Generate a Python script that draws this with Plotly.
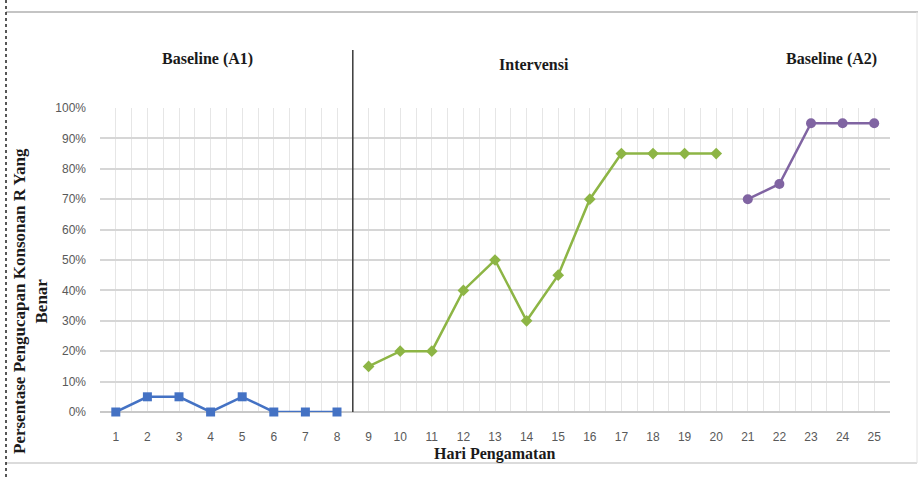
import plotly.graph_objects as go

days_a1 = [1, 2, 3, 4, 5, 6, 7, 8]
values_a1 = [0, 5, 5, 0, 5, 0, 0, 0]
days_b = [9, 10, 11, 12, 13, 14, 15, 16, 17, 18, 19, 20]
values_b = [15, 20, 20, 40, 50, 30, 45, 70, 85, 85, 85, 85]
days_a2 = [21, 22, 23, 24, 25]
values_a2 = [70, 75, 95, 95, 95]
x_ticks = list(range(1, 26))
y_ticks = [0, 10, 20, 30, 40, 50, 60, 70, 80, 90, 100]
y_tick_labels = [f"{v}%" for v in y_ticks]
phase_labels = ["Baseline (A1)", "Intervensi", "Baseline (A2)"]

W, H = 918, 480
L, R, T, B = 100, 890, 108, 412


def px(x):
    return (x - L) / (R - L)


def py(y):
    return (B - y) / (B - T)


fig = go.Figure()
fig.add_trace(go.Scatter(x=days_a1, y=values_a1, mode="lines+markers",
                         line=dict(color="#4472C4", width=2.5),
                         marker=dict(symbol="square", size=9, color="#4472C4"),
                         cliponaxis=False, showlegend=False))
fig.add_trace(go.Scatter(x=days_b, y=values_b, mode="lines+markers",
                         line=dict(color="#8DB545", width=2.5),
                         marker=dict(symbol="diamond", size=9, color="#8DB545"),
                         cliponaxis=False, showlegend=False))
fig.add_trace(go.Scatter(x=days_a2, y=values_a2, mode="lines+markers",
                         line=dict(color="#8064A2", width=2.5),
                         marker=dict(symbol="circle", size=10, color="#8064A2"),
                         cliponaxis=False, showlegend=False))

title_font = dict(family="Liberation Serif", size=16, color="#1a1a1a")

shapes = [
    dict(type="line", xref="x", yref="paper", x0=8.5, x1=8.5, y0=0, y1=py(50),
         line=dict(color="#3a3a3a", width=1.5)),
    dict(type="line", xref="paper", yref="paper", x0=px(6), x1=px(918), y0=py(12), y1=py(12),
         line=dict(color="#b0b0b0", width=1.5)),
    dict(type="line", xref="paper", yref="paper", x0=px(6), x1=px(917), y0=py(463), y1=py(463),
         line=dict(color="#cfcfcf", width=1.5)),
    dict(type="line", xref="paper", yref="paper", x0=px(917), x1=px(917), y0=py(12), y1=py(463),
         line=dict(color="#e2e2e2", width=1)),
    dict(type="line", xref="paper", yref="paper", x0=px(6), x1=px(6), y0=py(0), y1=py(480),
         line=dict(color="#202020", width=1.5, dash="dot")),
]

annotations = [
    dict(text="<b>" + phase_labels[0] + "</b>", x=px(207), y=py(59), xref="paper", yref="paper",
         showarrow=False, font=title_font, xanchor="center", yanchor="middle"),
    dict(text="<b>" + phase_labels[1] + "</b>", x=px(534), y=py(64), xref="paper", yref="paper",
         showarrow=False, font=title_font, xanchor="center", yanchor="middle"),
    dict(text="<b>" + phase_labels[2] + "</b>", x=px(831), y=py(59), xref="paper", yref="paper",
         showarrow=False, font=title_font, xanchor="center", yanchor="middle"),
    dict(text="<b>Hari Pengamatan</b>", x=px(494), y=py(454), xref="paper", yref="paper",
         showarrow=False, font=title_font, xanchor="center", yanchor="middle"),
    dict(text="<b>Persentase Pengucapan Konsonan R Yang<br>Benar</b>", x=px(30), y=py(301),
         xref="paper", yref="paper", showarrow=False,
         font=dict(family="Liberation Serif", size=17, color="#1a1a1a"), textangle=-90,
         xanchor="center", yanchor="middle"),
]

fig.update_layout(
    width=W, height=H,
    margin=dict(l=L, r=W - R, t=T, b=H - B),
    paper_bgcolor="white", plot_bgcolor="white",
    shapes=shapes, annotations=annotations,
    xaxis=dict(range=[0.5, 25.5], tickmode="array", tickvals=x_ticks,
               ticktext=[str(v) for v in x_ticks],
               showgrid=True, gridcolor="#e6e6e6", gridwidth=1,
               minor=dict(tickmode="array", tickvals=[v + 0.5 for v in [0] + x_ticks],
                          showgrid=True, gridcolor="#e6e6e6", gridwidth=1, ticklen=0),
               zeroline=False, showline=False, ticks="",
               tickfont=dict(family="Liberation Sans", size=12, color="#595959"),
               ticklabelstandoff=16),
    yaxis=dict(range=[0, 100], tickmode="array", tickvals=y_ticks, ticktext=y_tick_labels,
               showgrid=True, gridcolor="#d6d6d6", gridwidth=1.5,
               zeroline=True, zerolinecolor="#c8c8c8", zerolinewidth=1.5,
               showline=False, ticks="",
               tickfont=dict(family="Liberation Sans", size=12, color="#595959"),
               ticklabelstandoff=13),
)

fig.write_html("out.html", config={"displayModeBar": False},
               post_script="document.body.style.margin='0';")
